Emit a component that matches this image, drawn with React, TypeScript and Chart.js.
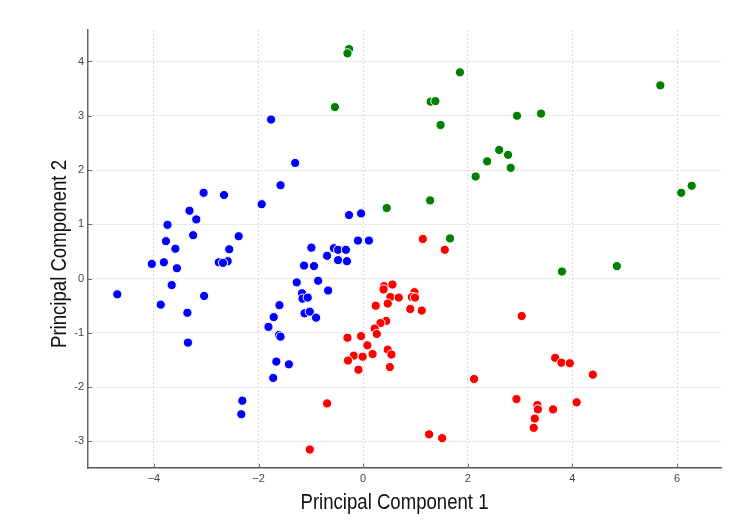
import React, { useEffect, useRef } from "react";
import { Chart, registerables } from "chart.js";

Chart.register(...registerables);

const blueX = [-1.76, -1.30, -1.58, -1.94, -3.05, -2.66, -3.32, -3.19, -3.74, -3.25, -2.38, -3.77, -3.59, -2.56, -0.27, -0.04, -0.10, 0.11, -0.99, -0.56, -0.48, -0.33, -4.04, -3.81, -3.56, -2.76, -2.59, -2.68, -3.66, -4.70, -3.87, -3.04, -3.36, -3.35, -0.69, -0.48, -0.31, -1.13, -0.94, -1.27, -0.86, -0.67, -1.17, -1.16, -1.06, -1.60, -1.12, -1.02, -0.90, -1.71, -1.81, -1.61, -1.58, -1.66, -1.42, -1.72, -2.31, -2.33];
const blueY = [2.93, 2.13, 1.72, 1.37, 1.58, 1.54, 1.25, 1.09, 0.99, 0.80, 0.78, 0.69, 0.55, 0.54, 1.17, 1.20, 0.70, 0.70, 0.57, 0.56, 0.53, 0.53, 0.27, 0.30, 0.19, 0.30, 0.32, 0.29, -0.12, -0.29, -0.48, -0.32, -0.63, -1.18, 0.42, 0.34, 0.32, 0.24, 0.23, -0.07, -0.04, -0.22, -0.27, -0.37, -0.35, -0.49, -0.64, -0.61, -0.72, -0.71, -0.89, -1.04, -1.07, -1.53, -1.58, -1.83, -2.25, -2.50];

const redX = [1.14, 1.56, 0.40, 0.56, 0.39, 0.52, 0.68, 0.98, 0.93, 0.99, 0.47, 0.24, 0.90, 1.12, 0.44, 0.33, 0.22, 0.26, -0.04, -0.30, 0.08, 0.18, -0.18, -0.01, -0.29, 0.47, 0.54, 0.51, -0.09, -0.69, -1.02, 3.03, 3.67, 3.79, 3.95, 4.39, 2.12, 2.93, 3.33, 3.34, 3.63, 4.08, 3.28, 3.26, 1.26, 1.51];
const redY = [0.73, 0.53, -0.14, -0.11, -0.20, -0.34, -0.35, -0.25, -0.34, -0.35, -0.46, -0.50, -0.56, -0.59, -0.78, -0.82, -0.92, -1.02, -1.06, -1.09, -1.23, -1.39, -1.42, -1.44, -1.51, -1.31, -1.40, -1.63, -1.68, -2.30, -3.15, -0.69, -1.46, -1.55, -1.56, -1.77, -1.85, -2.22, -2.33, -2.41, -2.41, -2.28, -2.58, -2.75, -2.87, -2.94];

const greenX = [-0.27, -0.30, -0.54, 0.45, 1.85, 1.29, 1.38, 1.48, 5.68, 2.94, 3.40, 2.60, 2.77, 2.37, 2.82, 2.15, 1.28, 6.28, 6.08, 1.66, 3.80, 4.85];
const greenY = [4.23, 4.15, 3.16, 1.30, 3.80, 3.26, 3.27, 2.83, 3.56, 3.00, 3.04, 2.37, 2.28, 2.16, 2.04, 1.88, 1.44, 1.71, 1.58, 0.74, 0.13, 0.23];

const xTicks = [-4, -2, 0, 2, 4, 6];
const yTicks = [-3, -2, -1, 0, 1, 2, 3, 4];
const xTitle = "Principal Component 1";
const yTitle = "Principal Component 2";

const toPoints = (xs: number[], ys: number[]) => xs.map((x, i) => ({ x, y: ys[i] }));

const decorPlugin = {
  id: "decor",
  afterDraw(chart: any) {
    const ctx = chart.ctx;
    const { left, right, top, bottom } = chart.chartArea;
    const xs = chart.scales.x;
    const ys = chart.scales.y;
    ctx.save();
    ctx.strokeStyle = "#666";
    ctx.lineWidth = 1;
    xTicks.forEach((v) => {
      const px = Math.round(xs.getPixelForValue(v)) + 0.5;
      ctx.beginPath();
      ctx.moveTo(px, bottom);
      ctx.lineTo(px, bottom - 4);
      ctx.stroke();
    });
    yTicks.forEach((v) => {
      const py = Math.round(ys.getPixelForValue(v)) + 0.5;
      ctx.beginPath();
      ctx.moveTo(left, py);
      ctx.lineTo(left + 4, py);
      ctx.stroke();
    });
    ctx.fillStyle = "#111";
    ctx.font = "22px 'Liberation Sans', Arial, sans-serif";
    ctx.textAlign = "center";
    ctx.textBaseline = "middle";
    const targetW = 188;
    const wx = ctx.measureText(xTitle).width;
    ctx.save();
    ctx.translate((left + right) / 2 - 10, 503);
    ctx.scale(targetW / wx, 1);
    ctx.fillText(xTitle, 0, 0);
    ctx.restore();
    const wy = ctx.measureText(yTitle).width;
    ctx.save();
    ctx.translate(60, (top + bottom) / 2 + 5);
    ctx.rotate(-Math.PI / 2);
    ctx.scale(targetW / wy, 1);
    ctx.fillText(yTitle, 0, 0);
    ctx.restore();
    ctx.restore();
  },
};

export default function App() {
  const ref = useRef<HTMLCanvasElement>(null);
  useEffect(() => {
    if (!ref.current) return;
    const pointStyle = (color: string) => ({
      backgroundColor: color,
      borderColor: "#ffffff",
      borderWidth: 1,
      pointRadius: 4.6,
      pointHoverRadius: 4.6,
    });
    const chart = new Chart(ref.current, {
      type: "scatter",
      data: {
        datasets: [
          { label: "blue", data: toPoints(blueX, blueY), ...pointStyle("#0000ff") },
          { label: "red", data: toPoints(redX, redY), ...pointStyle("#ff0000") },
          { label: "green", data: toPoints(greenX, greenY), ...pointStyle("#008000") },
        ],
      },
      options: {
        animation: false,
        responsive: false,
        layout: { padding: { top: 30, right: 29, left: 0, bottom: 0 } },
        plugins: { legend: { display: false }, tooltip: { enabled: false } },
        scales: {
          x: {
            type: "linear",
            min: -5.26,
            max: 6.84,
            afterBuildTicks: (s: any) => {
              s.ticks = xTicks.map((v) => ({ value: v }));
            },
            afterFit: (s: any) => {
              s.height = 62;
            },
            grid: { color: "#d9d9d9", lineWidth: 1, drawTicks: false },
            border: { display: true, color: "#555", width: 1.5, dash: [2, 2] },
            ticks: {
              padding: 4,
              color: "#444",
              font: { family: "'Liberation Sans', Arial, sans-serif", size: 11 },
              callback: (v: any) => (Number(v) < 0 ? "\u2212" + Math.abs(Number(v)) : String(v)),
            },
          },
          y: {
            type: "linear",
            min: -3.49,
            max: 4.58,
            afterBuildTicks: (s: any) => {
              s.ticks = yTicks.map((v) => ({ value: v }));
            },
            afterFit: (s: any) => {
              s.width = 88;
            },
            grid: { color: "#d9d9d9", lineWidth: 1, drawTicks: false },
            border: { display: true, color: "#666", width: 1.5, dash: [2, 2] },
            ticks: {
              padding: 4,
              color: "#444",
              font: { family: "'Liberation Sans', Arial, sans-serif", size: 11 },
              callback: (v: any) => String(v),
            },
          },
        },
      },
      plugins: [decorPlugin],
    });
    return () => chart.destroy();
  }, []);
  return (
    <div style={{ position: "absolute", left: 0, top: 0, width: 750, height: 530, background: "#fff" }}>
      <canvas ref={ref} width={750} height={530} />
    </div>
  );
}
